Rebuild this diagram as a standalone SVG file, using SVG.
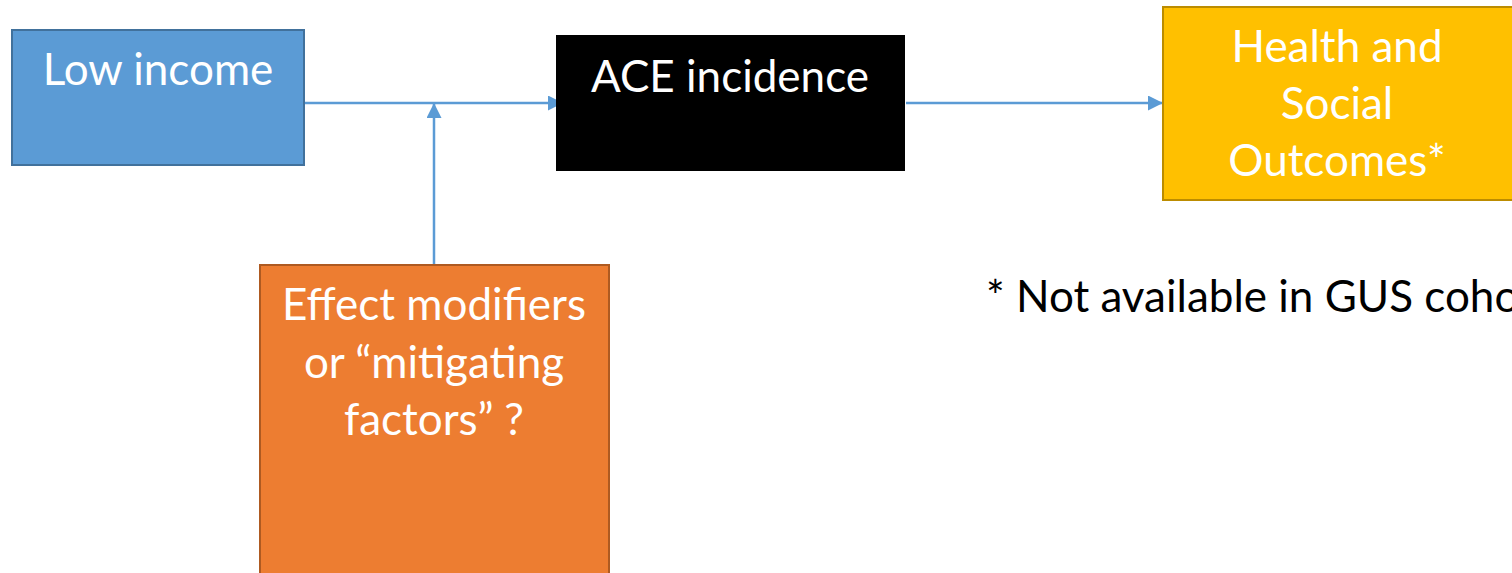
<svg xmlns="http://www.w3.org/2000/svg" width="1512" height="573" viewBox="0 0 1512 573">
<style>
.lbl{font-family:Lato,"Open Sans","Liberation Sans",sans-serif;font-size:44px;fill:#fff;text-anchor:middle}
.note{font-family:Lato,"Open Sans","Liberation Sans",sans-serif;font-size:44px;fill:#000}
.conn{stroke:#5B9BD5;stroke-width:2.5;fill:none}
</style>
<defs>
<marker id="ah" viewBox="0 0 10 10" refX="10" refY="5" markerWidth="6" markerHeight="6" markerUnits="strokeWidth" orient="auto">
<path d="M0,0 L10,5 L0,10 z" fill="#5B9BD5"/>
</marker>
</defs>
<rect width="1512" height="573" fill="#fff"/>
<g id="connectors">
<line class="conn" x1="305" y1="103" x2="563" y2="103" marker-end="url(#ah)"/>
<line class="conn" x1="434" y1="265" x2="434" y2="103" marker-end="url(#ah)"/>
<line class="conn" x1="906" y1="103" x2="1163" y2="103" marker-end="url(#ah)"/>
</g>
<g id="low-income">
<rect x="12" y="30" width="292" height="135" fill="#5B9BD5" stroke="#41719C" stroke-width="2"/>
<text class="lbl" x="158" y="85">Low income</text>
</g>
<g id="ace-incidence">
<rect x="556" y="35" width="349" height="136" fill="#000"/>
<text class="lbl" x="730" y="92">ACE incidence</text>
</g>
<g id="outcomes">
<rect x="1163" y="7" width="350" height="193" fill="#FFC000" stroke="#BC8C00" stroke-width="2"/>
<text class="lbl" x="1337" y="62">Health and</text>
<text class="lbl" x="1337" y="119">Social</text>
<text class="lbl" x="1337" y="176">Outcomes*</text>
</g>
<g id="effect-modifiers">
<rect x="260" y="265" width="349" height="320" fill="#ED7D31" stroke="#AE5A21" stroke-width="2"/>
<text class="lbl" x="434" y="320">Effect modifiers</text>
<text class="lbl" x="434" y="378">or “mitigating</text>
<text class="lbl" x="434" y="435">factors” ?</text>
</g>
<g id="footnote">
<text class="note" x="986" y="312">* Not available in GUS cohort</text>
</g>
</svg>
